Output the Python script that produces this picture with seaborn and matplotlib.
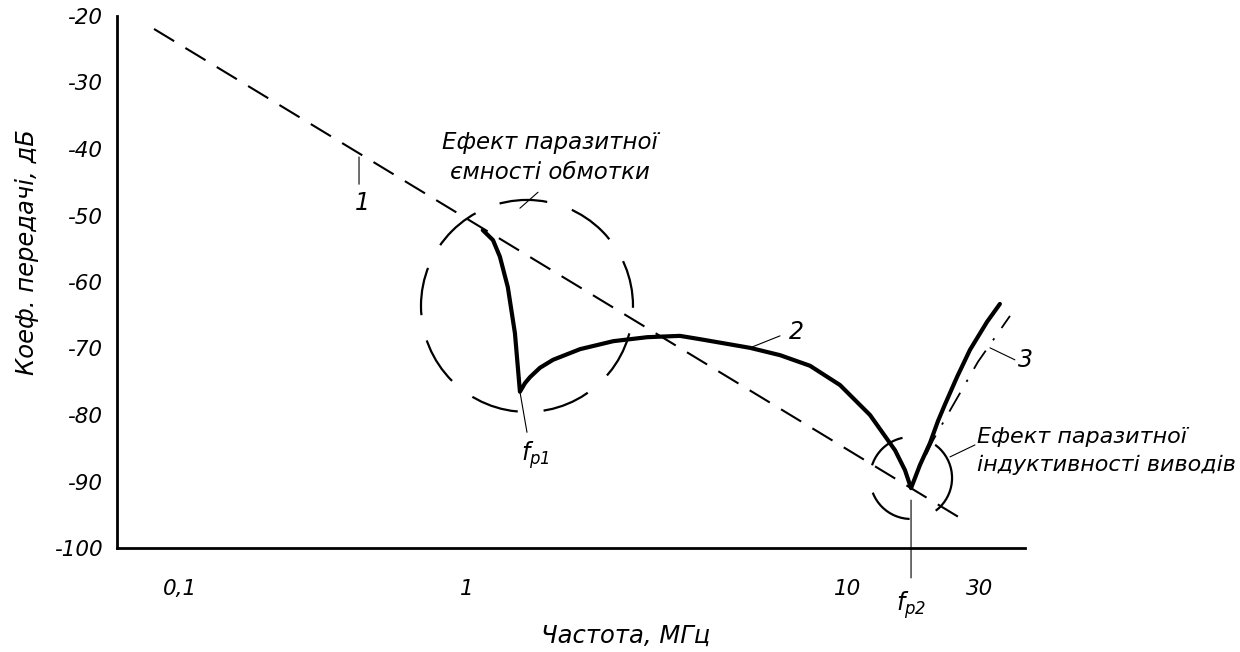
import numpy as np
import matplotlib
matplotlib.use('Agg')
import matplotlib.pyplot as plt
import matplotlib.transforms as mtransforms
from matplotlib.patches import Circle
import seaborn as sns

# ---- values ----
# 1: ideal transformer asymptote (dashed)
line1_f = [0.0812, 26.9]
line1_db = [-21.95, -96.1]

# 2: real response (thick)
curve2_f = [1.10, 1.17, 1.22, 1.28, 1.336, 1.377, 1.42, 1.464, 1.554, 1.682,
            1.98, 2.42, 2.97, 3.62, 4.09, 5.53, 6.63, 7.95, 9.53, 12.01, 14.79,
            16.07, 16.9, 18.21, 19.79, 21.15, 22.42, 24.77, 27.6, 31.8, 35.4]
curve2_db = [-52.2, -53.7, -56.2, -60.8, -67.7, -76.5, -75.2, -74.3, -72.9, -71.7,
             -70.1, -68.9, -68.3, -68.1, -68.6, -69.9, -71.0, -72.6, -75.5, -80.0, -85.3,
             -88.3, -91.0, -87.5, -84.2, -80.9, -78.4, -74.3, -70.2, -66.0, -63.3]

# 3: dash-dot branch
curve3_f = [19.14, 20.29, 23.76, 29.5, 38.5]
curve3_db = [-86.0, -83.8, -78.8, -72.0, -65.1]

fp1, fp1_db = 1.377, -76.5
fp2, fp2_db = 16.9, -91.0

x_ticks = [0.1, 1, 10, 30]
x_ticklabels = ['0,1', '1', '10', '30']
y_ticks = list(range(-100, -10, 10))

# the hand-drawn frequency axis: decades are not equally long
LOG_KNOTS = np.log10(x_ticks)
POS_KNOTS = np.array([180.0, 467.0, 848.0, 980.0])
S_LO = (POS_KNOTS[1] - POS_KNOTS[0]) / (LOG_KNOTS[1] - LOG_KNOTS[0])
S_HI = (POS_KNOTS[-1] - POS_KNOTS[-2]) / (LOG_KNOTS[-1] - LOG_KNOTS[-2])


def fwd(x):
    lg = np.log10(np.clip(np.asarray(x, dtype=float), 1e-9, None))
    out = np.interp(lg, LOG_KNOTS, POS_KNOTS)
    out = np.where(lg < LOG_KNOTS[0], POS_KNOTS[0] + (lg - LOG_KNOTS[0]) * S_LO, out)
    out = np.where(lg > LOG_KNOTS[-1], POS_KNOTS[-1] + (lg - LOG_KNOTS[-1]) * S_HI, out)
    return out


def inv(p):
    p = np.asarray(p, dtype=float)
    lg = np.interp(p, POS_KNOTS, LOG_KNOTS)
    lg = np.where(p < POS_KNOTS[0], LOG_KNOTS[0] + (p - POS_KNOTS[0]) / S_LO, lg)
    lg = np.where(p > POS_KNOTS[-1], LOG_KNOTS[-1] + (p - POS_KNOTS[-1]) / S_HI, lg)
    return 10 ** lg


def ring_dashes(r_px, lw, start_deg, segs_deg):
    # dash pattern given in degrees of arc -> matplotlib units
    k = 2 * np.pi * r_px / 360 * 0.72 / lw
    return (start_deg * k, tuple(s * k for s in segs_deg))


sns.set_theme(style='white')
plt.rcParams['font.family'] = ['DejaVu Sans']
plt.rcParams['font.style'] = 'italic'
plt.rcParams['mathtext.fontset'] = 'custom'
plt.rcParams['mathtext.it'] = 'DejaVu Sans:italic'
plt.rcParams['mathtext.rm'] = 'DejaVu Sans:italic'
for key in ['text.color', 'axes.labelcolor', 'xtick.color', 'ytick.color']:
    plt.rcParams[key] = 'black'

fig = plt.figure(figsize=(12.4, 6.52), dpi=100)
ax = fig.add_axes([117 / 1240, 104 / 652, 908 / 1240, 532 / 652])
ax.set_xscale('function', functions=(fwd, inv))
ax.set_xlim(float(inv(117)), float(inv(1025)))
ax.set_ylim(-100, -20)

sns.lineplot(x=line1_f, y=line1_db, ax=ax, color='black', lw=1.5,
             linestyle=(0, (11.3, 6.3)), sort=False, estimator=None)
sns.lineplot(x=curve2_f, y=curve2_db, ax=ax, color='black', lw=3.0,
             sort=False, estimator=None, solid_joinstyle='round', solid_capstyle='round')
sns.lineplot(x=curve3_f, y=curve3_db, ax=ax, color='black', lw=1.3,
             linestyle=(0, (12, 7, 1.3, 7)), sort=False, estimator=None)

# dashed rings marking the parasitic effects
lw_c = 1.6
ring1 = Circle((0, 0), radius=1.06, fill=False, ec='black', lw=lw_c,
               ls=ring_dashes(106, lw_c, 31, [26, 14]),
               transform=fig.dpi_scale_trans + mtransforms.ScaledTranslation(1.437, -63.6, ax.transData))
ring2 = Circle((0, 0), radius=0.41, fill=False, ec='black', lw=lw_c,
               ls=ring_dashes(41, lw_c, 323, [107, 48, 60, 39, 67, 39]),
               transform=fig.dpi_scale_trans + mtransforms.ScaledTranslation(16.9, -89.47, ax.transData))
ax.add_patch(ring1)
ax.add_patch(ring2)

# leader lines and labels
lead = dict(arrowstyle='-', lw=0.8, color='black', shrinkA=0, shrinkB=0)
ax.annotate('', xy=(0.4205, -41.2), xytext=(0.4205, -45.3), arrowprops=lead)
ax.text(0.4306, -48.1, '1', fontsize=17, ha='center', va='center')

ax.annotate('', xy=(5.53, -69.9), xytext=(6.63, -68.1), arrowprops=lead)
ax.text(7.0, -67.5, '2', fontsize=17, ha='left', va='center')

ax.annotate('', xy=(32.6, -69.9), xytext=(40.1, -71.7), arrowprops=lead, annotation_clip=False)
ax.text(41.3, -71.7, '3', fontsize=17, ha='left', va='center')

ax.annotate('', xy=(fp1, fp1_db), xytext=(1.437, -82.6), arrowprops=lead)
ax.text(1.508, -86.0, r'$f_{p1}$', fontsize=17, ha='center', va='center')

ax.annotate('', xy=(fp2, -92.8), xytext=(fp2, -104.5), arrowprops=lead, annotation_clip=False)
ax.text(fp2, -108.6, r'$f_{p2}$', fontsize=17, ha='center', va='center')

ax.annotate('', xy=(1.377, -48.9), xytext=(1.536, -46.5), arrowprops=lead)
ax.text(1.651, -41.3, 'Ефект паразитної\nємності обмотки', fontsize=16.5,
        ha='center', va='center', linespacing=1.4)

ax.annotate('', xy=(23.37, -86.3), xytext=(28.77, -84.5), arrowprops=lead, annotation_clip=False)
ax.text(29.26, -85.4, 'Ефект паразитної\nіндуктивності виводів', fontsize=16,
        ha='left', va='center', linespacing=1.5)

# axes
x_min = ax.get_xlim()[0]
ax.set_xticks([x_min] + x_ticks)
ax.set_xticklabels([''] + x_ticklabels)
ax.set_yticks(y_ticks)
ax.set_yticklabels([str(v) for v in y_ticks])
ax.minorticks_off()
ax.tick_params(axis='y', direction='out', length=9, width=0.8, color='#444444',
               pad=1.5, labelsize=15.5)
ax.tick_params(axis='x', direction='out', length=8, width=0.8, color='#444444',
               pad=14, labelsize=15.5)

for side in ['top', 'right']:
    ax.spines[side].set_visible(False)
for side in ['left', 'bottom']:
    ax.spines[side].set_color('black')
    ax.spines[side].set_linewidth(2.0)

ax.set_xlabel('Частота, МГц', fontsize=17.5)
ax.set_ylabel('Коеф. передачі, дБ', fontsize=17.5)
ax.xaxis.set_label_coords(0.56, -0.143)
ax.yaxis.set_label_coords(-0.086, 0.556)

fig.savefig('out.png', dpi=100)
